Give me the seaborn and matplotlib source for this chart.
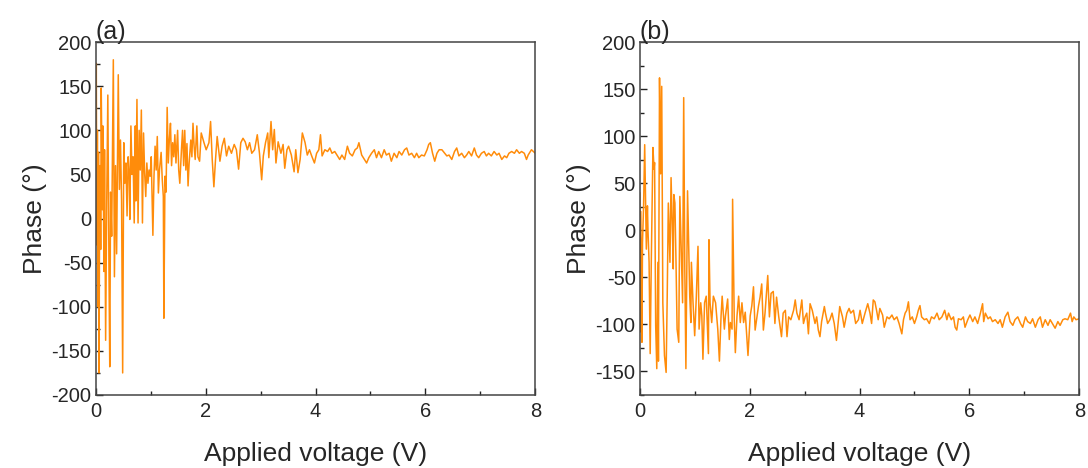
"""Phase vs applied voltage, two panels (a) and (b)."""

import matplotlib
matplotlib.use("Agg")
import matplotlib.pyplot as plt
from matplotlib.ticker import MultipleLocator
import pandas as pd
import seaborn as sns

# ---- panel (a) : values ----
VOLT_A = [
    0.00, 0.01, 0.02, 0.03, 0.04, 0.05, 0.06, 0.07, 0.08, 0.09, 0.10, 0.12, 0.13, 0.15,
    0.16, 0.18, 0.20, 0.22, 0.24, 0.255, 0.27, 0.29, 0.32, 0.34, 0.36, 0.38, 0.41, 0.43,
    0.45, 0.47, 0.49, 0.51, 0.53, 0.55, 0.57, 0.59, 0.61, 0.62, 0.64, 0.66, 0.68, 0.70,
    0.72, 0.73, 0.75, 0.77, 0.79, 0.81, 0.83, 0.85, 0.87, 0.89, 0.91, 0.93, 0.95, 0.97,
    0.99, 1.01, 1.04, 1.06, 1.08, 1.10, 1.12, 1.14, 1.16, 1.19, 1.21, 1.23, 1.24, 1.26,
    1.28, 1.30, 1.32, 1.34, 1.36, 1.38, 1.40, 1.42, 1.44, 1.46, 1.49, 1.51, 1.53, 1.56,
    1.58, 1.60, 1.62, 1.64, 1.66, 1.68, 1.70, 1.73, 1.75, 1.77, 1.79, 1.81, 1.84, 1.86,
    1.89, 1.92, 1.97, 2.01, 2.06, 2.09, 2.12, 2.15, 2.18, 2.21, 2.26, 2.30, 2.34, 2.38,
    2.42, 2.47, 2.52, 2.56, 2.60, 2.64, 2.68, 2.72, 2.76, 2.80, 2.84, 2.89, 2.94, 2.98,
    3.02, 3.05, 3.09, 3.13, 3.15, 3.19, 3.22, 3.25, 3.28, 3.32, 3.37, 3.41, 3.44, 3.48,
    3.51, 3.56, 3.61, 3.64, 3.68, 3.72, 3.76, 3.81, 3.85, 3.89, 3.93, 3.98, 4.02, 4.06,
    4.09, 4.12, 4.17, 4.22, 4.26, 4.30, 4.35, 4.40, 4.44, 4.48, 4.53, 4.58, 4.62, 4.67,
    4.72, 4.76, 4.79, 4.84, 4.89, 4.93, 4.97, 5.02, 5.07, 5.11, 5.15, 5.20, 5.25, 5.29,
    5.34, 5.38, 5.43, 5.48, 5.52, 5.57, 5.62, 5.66, 5.70, 5.75, 5.80, 5.84, 5.88, 5.93,
    5.98, 6.03, 6.06, 6.09, 6.13, 6.17, 6.21, 6.25, 6.30, 6.35, 6.39, 6.43, 6.48, 6.53,
    6.57, 6.61, 6.66, 6.71, 6.75, 6.79, 6.84, 6.89, 6.93, 6.97, 7.02, 7.07, 7.11, 7.15,
    7.20, 7.25, 7.30, 7.34, 7.39, 7.44, 7.48, 7.52, 7.57, 7.62, 7.66, 7.71, 7.75, 7.80,
    7.84, 7.87, 7.93, 8.00,
]
PHASE_A = [
    40, 176, -30, 100, -100, 75, -175, 20, 60, -35, 148, 10, 105, -60,
    78, -138, 20, 140, -50, -168, 30, -20, 180, -66, 60, -40, 163, 33,
    89, 20, -175, 86, 40, 63, 3, 70, 48, -1, 105, 50, 70, -5,
    105, 20, 135, -5, 100, 55, 123, -5, 97, 52, 25, 63, 40, 55,
    48, 70, -19, 48, 82, 55, 93, 29, 55, 75, 45, 25, -113, 48,
    30, 126, 63, 90, 108, 60, 86, 70, 95, 63, 100, 55, 40, 78,
    100, 60, 100, 55, 85, 37, 63, 89, 70, 108, 82, 67, 105, 70,
    65, 97, 86, 78, 86, 110, 67, 36, 67, 93, 65, 82, 91, 71,
    82, 74, 84, 78, 56, 86, 91, 87, 78, 86, 74, 78, 95, 74,
    44, 71, 86, 97, 69, 110, 78, 101, 63, 87, 74, 84, 57, 78,
    82, 72, 53, 78, 52, 67, 97, 86, 72, 78, 71, 63, 74, 78,
    95, 71, 78, 76, 80, 74, 76, 71, 67, 72, 67, 82, 74, 71,
    78, 80, 86, 72, 67, 63, 69, 74, 78, 69, 76, 69, 78, 72,
    74, 65, 74, 69, 76, 72, 78, 80, 72, 74, 69, 74, 69, 72,
    71, 78, 84, 86, 74, 65, 74, 78, 78, 74, 71, 72, 67, 76,
    80, 71, 74, 69, 72, 76, 71, 80, 72, 69, 74, 76, 71, 74,
    71, 76, 72, 74, 67, 71, 69, 74, 76, 74, 78, 74, 76, 74,
    67, 72, 78, 74,
]

# ---- panel (b) ----
VOLT_B = [
    0.00, 0.01, 0.02, 0.03, 0.04, 0.05, 0.07, 0.09, 0.12, 0.14, 0.15, 0.17, 0.19, 0.21,
    0.24, 0.26, 0.27, 0.29, 0.31, 0.33, 0.34, 0.36, 0.38, 0.40, 0.42, 0.45, 0.48, 0.50,
    0.52, 0.55, 0.57, 0.59, 0.61, 0.62, 0.64, 0.66, 0.68, 0.71, 0.73, 0.76, 0.78, 0.80,
    0.82, 0.84, 0.87, 0.89, 0.91, 0.93, 0.94, 0.97, 1.00, 1.03, 1.06, 1.08, 1.11, 1.13,
    1.15, 1.18, 1.21, 1.25, 1.26, 1.28, 1.31, 1.34, 1.38, 1.42, 1.45, 1.48, 1.50, 1.54,
    1.56, 1.60, 1.63, 1.65, 1.68, 1.69, 1.72, 1.74, 1.77, 1.80, 1.83, 1.86, 1.89, 1.92,
    1.97, 2.01, 2.04, 2.07, 2.10, 2.16, 2.19, 2.22, 2.25, 2.28, 2.33, 2.36, 2.39, 2.43,
    2.46, 2.49, 2.53, 2.58, 2.61, 2.65, 2.68, 2.71, 2.75, 2.80, 2.83, 2.86, 2.90, 2.95,
    2.98, 3.01, 3.04, 3.07, 3.10, 3.14, 3.19, 3.22, 3.25, 3.28, 3.31, 3.36, 3.38, 3.42,
    3.46, 3.50, 3.54, 3.58, 3.61, 3.64, 3.69, 3.72, 3.77, 3.81, 3.84, 3.89, 3.93, 3.98,
    4.01, 4.05, 4.10, 4.15, 4.19, 4.22, 4.25, 4.28, 4.31, 4.34, 4.37, 4.42, 4.45, 4.50,
    4.54, 4.59, 4.63, 4.68, 4.72, 4.77, 4.80, 4.83, 4.86, 4.89, 4.92, 4.96, 5.00, 5.04,
    5.07, 5.10, 5.13, 5.18, 5.22, 5.27, 5.31, 5.36, 5.41, 5.45, 5.50, 5.55, 5.59, 5.62,
    5.67, 5.71, 5.74, 5.77, 5.80, 5.85, 5.89, 5.92, 5.97, 6.01, 6.06, 6.10, 6.15, 6.20,
    6.24, 6.26, 6.29, 6.34, 6.38, 6.42, 6.47, 6.52, 6.56, 6.60, 6.65, 6.70, 6.74, 6.79,
    6.83, 6.88, 6.93, 6.97, 7.02, 7.06, 7.11, 7.15, 7.20, 7.25, 7.29, 7.33, 7.38, 7.43,
    7.47, 7.51, 7.56, 7.61, 7.65, 7.70, 7.74, 7.79, 7.84, 7.87, 7.90, 7.94, 8.00,
]
PHASE_B = [
    40, -108, 20, -50, -119, -13, 26, 91, -20, 26, 0, -34, -131, -34,
    88, 65, 72, -101, -147, -34, -139, 162, 60, 153, -77, -133, -151, -70,
    29, -34, 56, 10, -41, 38, 29, -34, -105, -119, 36, -34, -77, 141,
    -41, -147, 42, -13, -70, -98, -34, -77, -112, -70, -17, -105, -77, -91,
    -137, -77, -70, -131, -10, -77, -98, -70, -77, -105, -139, -91, -70, -105,
    -91, -73, -116, -98, -105, 33, -94, -130, -91, -70, -98, -77, -98, -87,
    -133, -91, -80, -60, -106, -81, -71, -57, -106, -88, -48, -92, -67, -65,
    -99, -71, -92, -113, -88, -85, -113, -92, -95, -85, -74, -88, -95, -74,
    -99, -92, -88, -110, -78, -85, -99, -92, -106, -113, -97, -81, -88, -99,
    -95, -88, -99, -117, -99, -81, -92, -103, -88, -83, -88, -85, -99, -95,
    -85, -99, -88, -78, -88, -99, -74, -76, -85, -95, -83, -90, -103, -92,
    -94, -90, -95, -92, -99, -110, -95, -88, -85, -76, -95, -92, -99, -92,
    -85, -80, -92, -95, -94, -99, -92, -94, -88, -95, -92, -85, -95, -88,
    -95, -92, -103, -106, -94, -95, -92, -103, -95, -90, -97, -92, -99, -88,
    -78, -97, -88, -94, -92, -97, -95, -99, -95, -103, -92, -87, -97, -101,
    -95, -92, -99, -103, -92, -97, -99, -94, -103, -95, -92, -103, -95, -101,
    -95, -99, -104, -97, -101, -95, -94, -95, -88, -97, -92, -95, -94,
]

LINE_COLOR = "#FF8C0A"
FONT = ["Liberation Sans", "DejaVu Sans"]


def style_axis(ax, ylim):
    ax.set_xlim(0, 8)
    ax.set_ylim(*ylim)
    ax.xaxis.set_major_locator(MultipleLocator(2))
    ax.xaxis.set_minor_locator(MultipleLocator(1))
    ax.yaxis.set_major_locator(MultipleLocator(50))
    ax.yaxis.set_minor_locator(MultipleLocator(25))
    ax.tick_params(which="both", direction="in", labelsize=14.5, color="#222222",
                   top=False, right=False)
    ax.tick_params(axis="x", pad=5)
    ax.tick_params(axis="y", pad=3)
    ax.tick_params(which="major", length=5, width=1)
    ax.tick_params(which="minor", length=3, width=1)
    for sp in ax.spines.values():
        sp.set_visible(True)
        sp.set_color("#444444")
        sp.set_linewidth(1.1)
    ax.set_xlabel("Applied voltage (V)", fontsize=19, labelpad=15)
    ax.set_ylabel("Phase (°)", fontsize=19, labelpad=3)


def main():
    sns.set_style("ticks")
    plt.rcParams["font.family"] = FONT
    plt.rcParams["axes.unicode_minus"] = False

    df_a = pd.DataFrame({"voltage": VOLT_A, "phase": PHASE_A})
    df_b = pd.DataFrame({"voltage": VOLT_B, "phase": PHASE_B})

    fig = plt.figure(figsize=(10.88, 4.68), dpi=100)
    ax_a = fig.add_axes([0.088, 0.156, 0.404, 0.754])
    ax_b = fig.add_axes([0.588, 0.156, 0.404, 0.754])

    sns.lineplot(data=df_a, x="voltage", y="phase", ax=ax_a, color=LINE_COLOR,
                 linewidth=1.1, estimator=None, sort=False)
    sns.lineplot(data=df_b, x="voltage", y="phase", ax=ax_b, color=LINE_COLOR,
                 linewidth=1.1, estimator=None, sort=False)

    style_axis(ax_a, (-200, 200))
    style_axis(ax_b, (-175, 200))
    ax_b.set_yticks([-150, -100, -50, 0, 50, 100, 150, 200])

    for ax, tag in [(ax_a, "(a)"), (ax_b, "(b)")]:
        ax.text(0.0, 0.995, tag, transform=ax.transAxes, ha="left", va="bottom",
                fontsize=18)

    fig.savefig("out.png", dpi=100)


if __name__ == "__main__":
    main()
